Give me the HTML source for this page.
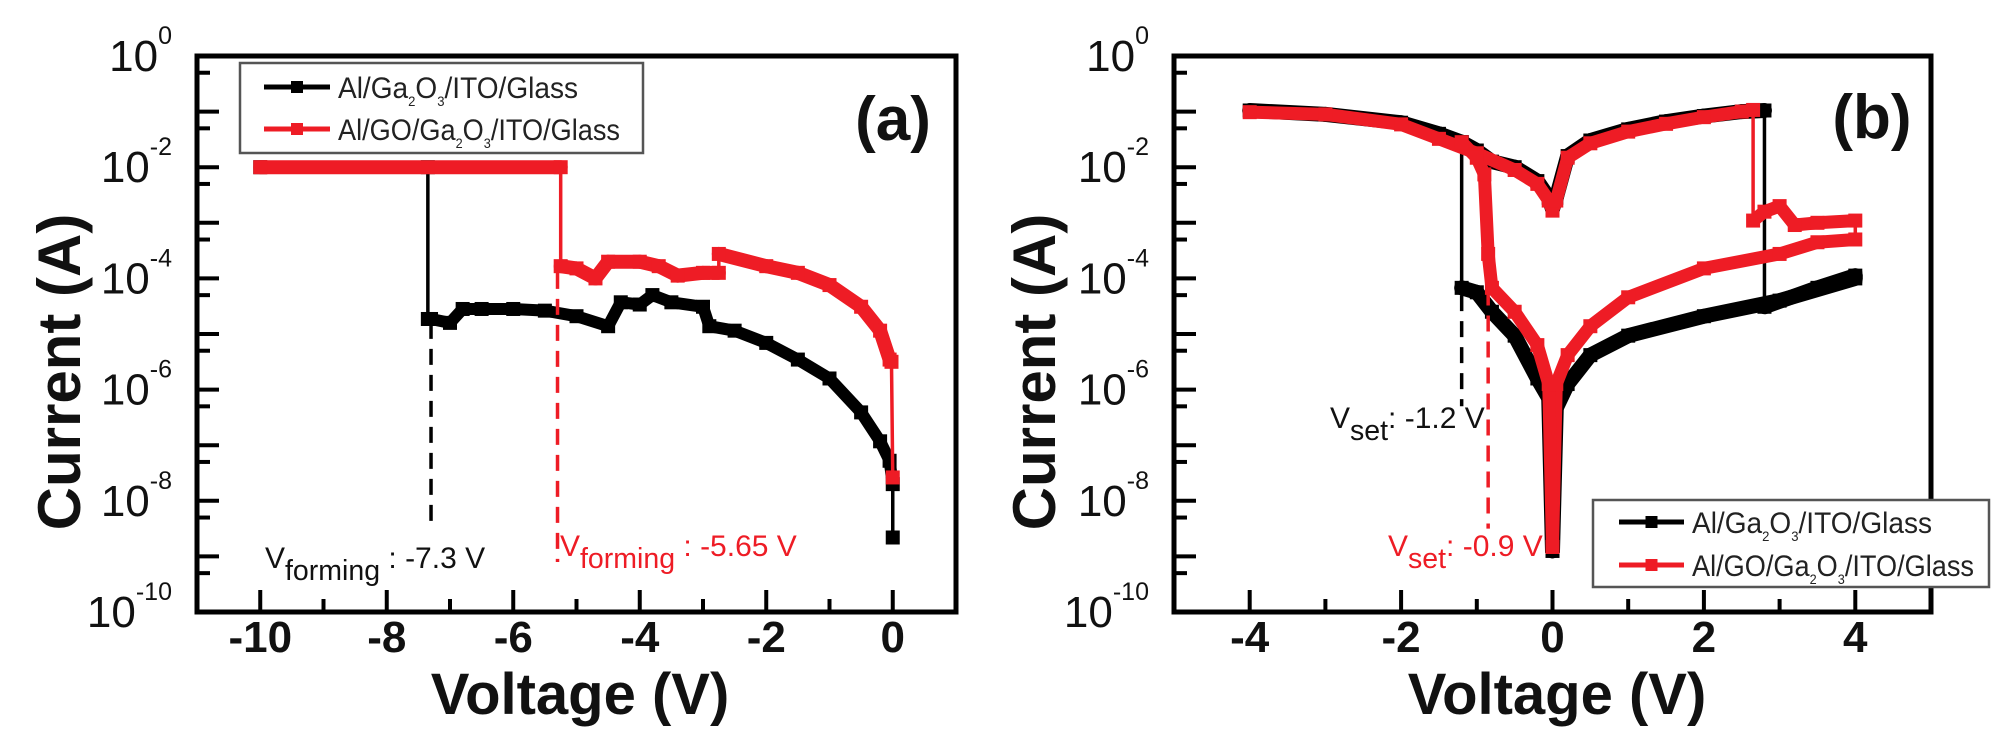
<!DOCTYPE html>
<html><head><meta charset="utf-8"><style>
html,body{margin:0;padding:0;background:#fff;}
svg{display:block;font-family:"Liberation Sans",Arial,sans-serif;}
</style></head><body>
<svg id="fig" width="2010" height="753" viewBox="0 0 2010 753" xmlns="http://www.w3.org/2000/svg">
<g id="pa"></g>
<g id="pb"></g>
</svg>
<script>
// ---- Panel (a) data: voltage (V) and log10(current A)
const aBlackV   = [-10,-7.35,-7.35,-7.3,-7.0,-6.8,-6.5,-6.0,-5.5,-5.0,-4.5,-4.3,-4.0,-3.8,-3.5,-3.0,-2.9,-2.5,-2.0,-1.5,-1.0,-0.5,-0.2,-0.05,0,0];
const aBlackLog = [-2,-2,-4.73,-4.73,-4.8,-4.55,-4.55,-4.55,-4.58,-4.68,-4.86,-4.43,-4.47,-4.3,-4.43,-4.51,-4.86,-4.94,-5.16,-5.46,-5.8,-6.41,-6.93,-7.28,-7.7,-8.66];
const aRedV   = [-10,-5.25,-5.25,-5.0,-4.7,-4.5,-4.0,-3.7,-3.4,-3.0,-2.75,-2.75,-2.0,-1.5,-1.0,-0.5,-0.2,-0.05,-0.02,0];
const aRedLog = [-2,-2,-3.78,-3.82,-4.0,-3.7,-3.7,-3.78,-3.95,-3.9,-3.9,-3.56,-3.78,-3.9,-4.12,-4.51,-4.94,-5.46,-5.5,-7.58];
const aXTicks = [-10,-8,-6,-4,-2,0];
const aXTickLabels = ["-10","-8","-6","-4","-2","0"];
// ---- Panel (b) data
const bBlackV   = [-4,-3,-2,-1.5,-1.2,-1.2,-1.0,-0.8,-0.5,-0.2,-0.05,0,0,0.05,0.2,0.5,1,1.5,2,2.5,2.8,2.8,3.5,4,4,3,2,1,0.5,0.2,0.05,0,0,-0.05,-0.2,-0.5,-0.8,-1.0,-1.2,-1.2];
const bBlackLog = [-0.98,-1.05,-1.2,-1.4,-1.55,-1.55,-1.7,-1.9,-2.0,-2.25,-2.55,-2.75,-2.75,-2.55,-1.8,-1.52,-1.32,-1.18,-1.08,-1.0,-0.98,-4.51,-4.17,-3.95,-4.0,-4.4,-4.68,-5.03,-5.38,-5.9,-6.33,-8.9,-8.9,-6.15,-5.8,-5.03,-4.6,-4.25,-4.17,-1.55];
const bRedV   = [-4,-3,-2,-1.5,-1,-0.5,-0.2,-0.05,0,0,0.05,0.2,0.5,1,1.5,2,2.5,2.65,2.65,2.8,3.0,3.2,3.5,4,4,3.5,3,2,1,0.5,0.2,0.05,0,0,-0.05,-0.2,-0.5,-0.8,-0.85,-0.9,-1.0,-1.2];
const bRedLog = [-1.01,-1.05,-1.23,-1.49,-1.75,-2.05,-2.3,-2.6,-2.78,-2.78,-2.6,-1.83,-1.57,-1.36,-1.22,-1.1,-1.0,-0.97,-2.96,-2.8,-2.7,-3.04,-3.0,-2.96,-3.3,-3.35,-3.56,-3.82,-4.34,-4.86,-5.38,-5.9,-8.83,-8.83,-5.9,-5.2,-4.6,-4.17,-3.56,-2.13,-1.83,-1.55];
const bXTicks = [-4,-2,0,2,4];
const bXTickLabels = ["-4","-2","0","2","4"];
const yDecades = [0,-2,-4,-6,-8,-10];
const yTickLabels = ["0","-2","-4","-6","-8","-10"];

const NS = "http://www.w3.org/2000/svg";
function mk(parent, tag, attrs, text){
  const e = document.createElementNS(NS, tag);
  for (const k in attrs) e.setAttribute(k, attrs[k]);
  if (text !== undefined) e.textContent = text;
  parent.appendChild(e);
  return e;
}
const Y0 = 56, DEC = 55.6, YB = 612;
function ys(l){ return Y0 - l*DEC; }

function axes(g, L, R, xmin, xmax, xTicks, xLabels, minorStep){
  const xs = v => L + (v - xmin) / (xmax - xmin) * (R - L);
  const box = mk(g, "rect", {x:L, y:Y0, width:R-L, height:YB-Y0, fill:"none", stroke:"#000", "stroke-width":5});
  
  
  for (let d = 0; d >= -10; d--) {
    const y = ys(d);
    if (d < 0) { const t = mk(g,"line",{x1:L,x2:L+22,y1:y,y2:y,stroke:"#000","stroke-width":4});
        }
    if (d > -10) { const y5 = ys(d - 1 + Math.log10(5));
      const t2 = mk(g,"line",{x1:L,x2:L+13,y1:y5,y2:y5,stroke:"#000","stroke-width":4});
        }
  }
  yDecades.forEach((d,i) => {
    const t = mk(g,"text",{x:L-25, y:ys(d)+15, "text-anchor":"end", "font-size":44, fill:"#111"});
    
    
    mk(t,"tspan",{},"10");
    mk(t,"tspan",{dy:-27,"font-size":25},yTickLabels[i]);
  });
  for (let v = Math.ceil(xmin); v <= xmax; v += minorStep) {
    const x = xs(v);
    const major = xTicks.indexOf(v) >= 0;
    const t = mk(g,"line",{x1:x,x2:x,y1:YB,y2:YB-(major?22:13),stroke:"#000","stroke-width":4});
    
    
  }
  xTicks.forEach((v,i) => {
    const t = mk(g,"text",{x:xs(v), y:652, "text-anchor":"middle","font-size":44,"font-weight":"bold",fill:"#111"}, xLabels[i]);
    
    
  });
  return xs;
}

function series(g, xs, V, LG, color, w, name){
  const grp = mk(g,"g",{});
  
  
  for (let i = 1; i < V.length; i++) {
    const x1 = xs(V[i-1]), x2 = xs(V[i]);
    const vert = Math.abs(x2 - x1) < 1.5;
    const s = mk(grp,"line",{x1:x1,y1:ys(LG[i-1]),x2:x2,y2:ys(LG[i]),stroke:color,"stroke-width":vert?3.5:w,"stroke-linecap":"round"});
    
    
  }
  V.forEach((v,i) => {
    const m = mk(grp,"rect",{x:xs(v)-7,y:ys(LG[i])-7,width:14,height:14,fill:color});
    
    
  });
}

function dashed(g, xs, v, l1, l2, color, name){
  const d = mk(g,"line",{x1:xs(v),x2:xs(v),y1:ys(l1),y2:ys(l2),stroke:color,"stroke-width":3.5,"stroke-dasharray":"16 10"});
  
  
}

function legend(g, x, y, w, h, e1y, e2y, lx1, lx2){
  const lg = mk(g,"g",{});
  
  
  const r = mk(lg,"rect",{x:x,y:y,width:w,height:h,fill:"#fff",stroke:"#555","stroke-width":2.5});
   
  [[e1y,"#000",["Al/Ga","2","O","3","/ITO/Glass"],240],[e2y,"#ee1c25",["Al/GO/Ga","2","O","3","/ITO/Glass"],282]].forEach(([yy,c,parts,tl]) => {
    const ln = mk(lg,"line",{x1:lx1,x2:lx2,y1:yy,y2:yy,stroke:c,"stroke-width":5});
     
    const mkr = mk(lg,"rect",{x:(lx1+lx2)/2-6,y:yy-6,width:12,height:12,fill:c});
     
    const t = mk(lg,"text",{x:lx2+8,y:yy+11,"font-size":30,fill:"#222",textLength:tl,lengthAdjust:"spacingAndGlyphs"});
     
    mk(t,"tspan",{},parts[0]); mk(t,"tspan",{dy:8,"font-size":14},parts[1]);
    mk(t,"tspan",{dy:-8},parts[2]); mk(t,"tspan",{dy:8,"font-size":14},parts[3]);
    mk(t,"tspan",{dy:-8},parts[4]);
  });
}

function titles(g, cx, ylabX, panel, px, py){
  const yl = mk(g,"text",{x:ylabX,y:372,"text-anchor":"middle","font-size":60,"font-weight":"bold",transform:`rotate(-90 ${ylabX} 372)`,fill:"#111"},"Current (A)");
   
  const xl = mk(g,"text",{x:cx,y:714,"text-anchor":"middle","font-size":58,"font-weight":"bold",fill:"#111"},"Voltage (V)");
   
  const pl = mk(g,"text",{x:px,y:py,"text-anchor":"middle","font-size":62,"font-weight":"bold",fill:"#111"},panel);
   
}

function label(g, x, y, main, sub, rest, color, fs, name){
  const t = mk(g,"text",{x:x,y:y,"font-size":fs,fill:color});
   
  mk(t,"tspan",{},main);
  mk(t,"tspan",{dy:12,"font-size":fs*0.95},sub);
  mk(t,"tspan",{dy:-12},rest);
}

// ---- Panel a
const ga = document.getElementById("pa");
const xa = axes(ga, 197, 956, -11, 1, aXTicks, aXTickLabels, 1);
titles(ga, 580, 80, "(a)", 893, 140);
series(ga, xa, aBlackV, aBlackLog, "#000", 12, "series-black-a");
series(ga, xa, aRedV, aRedLog, "#ee1c25", 14, "series-red-a");
dashed(ga, xa, -7.3, -4.8, -8.45, "#000", "vforming-marker-black");
dashed(ga, xa, -5.3, -3.9, -9.1, "#ee1c25", "vforming-marker-red");
label(ga, 265, 568, "V", "forming", " : -7.3 V", "#111", 30, "vforming-label-black");
label(ga, 560, 556, "V", "forming", " : -5.65 V", "#ee1c25", 30, "vforming-label-red");
legend(ga, 240, 63, 403, 90, 87, 129, 264, 330);

// ---- Panel b
const gb = document.getElementById("pb");
const xb = axes(gb, 1174, 1931, -5, 5, bXTicks, bXTickLabels, 1);
titles(gb, 1557, 1055, "(b)", 1872, 138);
series(gb, xb, bBlackV, bBlackLog, "#000", 15, "series-black-b");
series(gb, xb, bRedV, bRedLog, "#ee1c25", 13, "series-red-b");
dashed(gb, xb, -1.2, -4.3, -6.3, "#000", "vset-marker-black");
dashed(gb, xb, -0.85, -4.2, -8.5, "#ee1c25", "vset-marker-red");
label(gb, 1330, 428, "V", "set", ": -1.2 V", "#111", 30, "vset-label-black");
label(gb, 1388, 556, "V", "set", ": -0.9 V", "#ee1c25", 30, "vset-label-red");
legend(gb, 1593, 500, 396, 87, 522, 565, 1619, 1684);
</script>
</body></html>
